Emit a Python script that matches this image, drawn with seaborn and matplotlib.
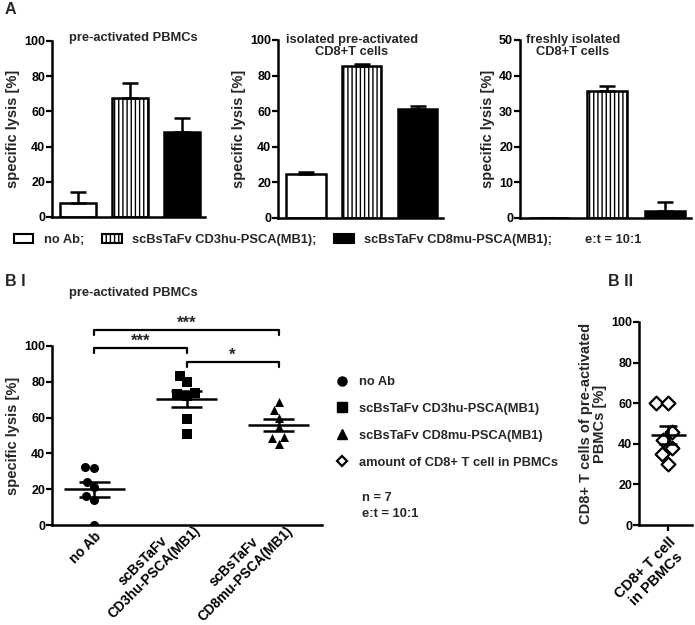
import numpy as np
import pandas as pd
import seaborn as sns
import matplotlib.pyplot as plt
import matplotlib.transforms as mtransforms
from matplotlib.patches import Patch
from matplotlib.lines import Line2D

# panel A - bar means and upper SEM
groups_a = ['no Ab', 'CD3hu', 'CD8mu']
pbmc_mean = [8, 67.5, 48.5]
pbmc_sem = [6, 8.5, 7.5]
cd8_mean = [24.5, 85.5, 61.5]
cd8_sem = [1.5, 1, 1.5]
fresh_mean = [0, 35.7, 2]
fresh_sem = [0, 1.3, 2.5]

# panel B I - single donors (n = 7)
groups_b = ['no Ab', 'scBsTaFv\nCD3hu-PSCA(MB1)', 'scBsTaFv\nCD8mu-PSCA(MB1)']
lysis_noab = [32.5, 32, 24, 21, 16, 14, 0]
lysis_cd3 = [83.5, 80, 74, 73, 72, 59, 51]
lysis_cd8 = [68.5, 64.3, 60, 54.6, 49, 48.7, 45]

# panel B II
cd8_amount = [60, 60, 46, 42, 38, 35, 30]

sns.set_theme(style="ticks")
plt.rcParams['font.family'] = ['Liberation Sans', 'DejaVu Sans']
plt.rcParams['font.weight'] = 'bold'
plt.rcParams['axes.labelweight'] = 'bold'
plt.rcParams['hatch.linewidth'] = 1.0

W, H = 695, 625
fig = plt.figure(figsize=(W / 100, H / 100), dpi=100)

TICK = 9
LAB = 10.5
TXT = 9.3


def fx(x):
    return x / W


def fy(y):
    return 1 - y / H


def px_axes(l, t, r, b):
    return fig.add_axes([fx(l), fy(b), (r - l) / W, (b - t) / H])


def style_axis(ax):
    sns.despine(ax=ax)
    for s in ['left', 'bottom']:
        ax.spines[s].set_linewidth(1.8)
        ax.spines[s].set_color('black')
    ax.tick_params(axis='both', width=1.6, length=4, labelsize=TICK, colors='black', pad=1)


def bar_panel(ax, means, sems, ymax, step):
    sns.barplot(x=groups_a, y=means, ax=ax, width=0.7, hue=groups_a, legend=False,
                palette=['white', 'white', 'black'], edgecolor='black', linewidth=1.8)
    ax.patches[1].set_hatch('||||')
    ax.errorbar(x=range(3), y=means, yerr=[[0, 0, 0], sems], fmt='none', ecolor='black',
                elinewidth=1.8, capsize=6, capthick=1.8, zorder=5)
    ax.set_ylim(0, ymax)
    ax.set_yticks(np.arange(0, ymax + 1, step))
    ax.set_xlim(-0.5, 2.45)
    ax.set_xticks([])
    ax.set_xlabel('')
    ax.set_ylabel('specific lysis [%]', fontsize=LAB, labelpad=3)
    style_axis(ax)


def rotate_labels(ax, va, size, dx=0, dy=0):
    for lab in ax.get_xticklabels():
        # single-line labels sit lower, below the points on the axis
        multi = '\n' in lab.get_text()
        ddx = dx if multi else dx - 1
        ddy = dy if multi else dy - 11
        shift = mtransforms.ScaledTranslation(ddx / 100, ddy / 100, fig.dpi_scale_trans)
        lab.set_rotation(45)
        lab.set_ha('right')
        lab.set_va(va)
        lab.set_rotation_mode('anchor')
        lab.set_multialignment('center')
        lab.set_fontsize(size)
        lab.set_transform(lab.get_transform() + shift)


ax1 = px_axes(52, 41, 205, 217)
bar_panel(ax1, pbmc_mean, pbmc_sem, 100, 20)
ax2 = px_axes(278, 40, 443, 218)
bar_panel(ax2, cd8_mean, cd8_sem, 100, 20)
ax3 = px_axes(520, 40, 691, 218)
bar_panel(ax3, fresh_mean, fresh_sem, 50, 10)

fig.text(fx(133), fy(38), 'pre-activated PBMCs', ha='center', va='center', fontsize=TXT)
fig.text(fx(352), fy(46), 'isolated pre-activated\nCD8+T cells', ha='center', va='center',
         fontsize=TXT, linespacing=1.1)
fig.text(fx(573), fy(46), 'freshly isolated\nCD8+T cells', ha='center', va='center',
         fontsize=TXT, linespacing=1.1)
fig.text(fx(5), fy(10), 'A', ha='left', va='center', fontsize=11.5)

# legend of panel A
a_handles = [Patch(facecolor='white', edgecolor='black', linewidth=1.5),
             Patch(facecolor='white', edgecolor='black', linewidth=1.5, hatch='||||'),
             Patch(facecolor='black', edgecolor='black', linewidth=1.5)]
a_labels = ['no Ab;', 'scBsTaFv CD3hu-PSCA(MB1);', 'scBsTaFv CD8mu-PSCA(MB1);']
fig.legend(a_handles, a_labels, loc='center left', bbox_to_anchor=(fx(14), fy(240)), ncol=3,
           frameon=False, fontsize=TXT, handlelength=1.5, handleheight=0.7,
           handletextpad=0.8, columnspacing=1.4, borderaxespad=0, borderpad=0)
fig.text(fx(585), fy(240), 'e:t = 10:1', ha='left', va='center', fontsize=TXT)

# panel B I
fig.text(fx(5), fy(281), 'B I', ha='left', va='center', fontsize=11.5)
fig.text(fx(133), fy(293), 'pre-activated PBMCs', ha='center', va='center', fontsize=TXT)

axb = px_axes(52, 346, 322, 525)
b_sets = [lysis_noab, lysis_cd3, lysis_cd8]
b_markers = ['o', 's', '^']
for i, (vals, m) in enumerate(zip(b_sets, b_markers)):
    sns.swarmplot(x=[groups_b[i]] * len(vals), y=vals, order=groups_b, ax=axb,
                  marker=m, color='black', size=6.5)
    mean = np.mean(vals)
    sem = np.std(vals, ddof=1) / np.sqrt(len(vals))
    axb.hlines(mean, i - 0.33, i + 0.33, color='black', lw=1.8, zorder=4)
    axb.hlines([mean - sem, mean + sem], i - 0.17, i + 0.17, color='black', lw=1.8, zorder=4)
    axb.vlines(i, mean - sem, mean + sem, color='black', lw=1.8, zorder=4)

# significance brackets
brackets = [(0, 2, 109, '***'), (0, 1, 99, '***'), (1, 2, 91, '*')]
for x1, x2, y, star in brackets:
    axb.plot([x1, x1, x2, x2], [y - 3, y, y, y - 3], color='black', lw=1.6, clip_on=False)
    axb.text((x1 + x2) / 2, y - 0.5, star, ha='center', va='bottom', fontsize=12)

axb.set_ylim(0, 100)
axb.set_yticks(np.arange(0, 101, 20))
axb.set_xlim(-0.46, 2.47)
axb.set_ylabel('specific lysis [%]', fontsize=LAB, labelpad=3)
style_axis(axb)
axb.tick_params(axis='x', length=0, pad=0)
rotate_labels(axb, 'center', 9.8, dx=6, dy=2)

# legend of panel B
b_handles = [Line2D([], [], marker='o', ls='', color='black', markersize=6.5),
             Line2D([], [], marker='s', ls='', color='black', markersize=6.5),
             Line2D([], [], marker='^', ls='', color='black', markersize=6.5),
             Line2D([], [], marker='D', ls='', markerfacecolor='white', markeredgecolor='black',
                    markeredgewidth=1.6, markersize=5.5)]
b_labels = ['no Ab', 'scBsTaFv CD3hu-PSCA(MB1)', 'scBsTaFv CD8mu-PSCA(MB1)',
            'amount of CD8+ T cell in PBMCs']
fig.legend(b_handles, b_labels, loc='upper left', bbox_to_anchor=(fx(336), fy(376)),
           frameon=False, fontsize=TXT, handlelength=1, handletextpad=0.8,
           labelspacing=1.15, borderaxespad=0, borderpad=0)
fig.text(fx(362), fy(498), 'n = 7', ha='left', va='center', fontsize=TXT)
fig.text(fx(362), fy(514), 'e:t = 10:1', ha='left', va='center', fontsize=TXT)

# panel B II
fig.text(fx(608), fy(282), 'B II', ha='left', va='center', fontsize=11.5)
axc = px_axes(639, 322, 692, 525)
sns.swarmplot(x=['CD8+ T cell\nin PBMCs'] * len(cd8_amount), y=cd8_amount, ax=axc,
              marker='D', color='white', edgecolor='black', linewidth=1.6, size=7)
m2 = np.mean(cd8_amount)
s2 = np.std(cd8_amount, ddof=1) / np.sqrt(len(cd8_amount))
axc.hlines(m2, -0.33, 0.33, color='black', lw=1.8, zorder=4)
axc.hlines([m2 - s2, m2 + s2], -0.17, 0.17, color='black', lw=1.8, zorder=4)
axc.vlines(0, m2 - s2, m2 + s2, color='black', lw=1.8, zorder=4)
axc.set_ylim(0, 100)
axc.set_yticks(np.arange(0, 101, 20))
axc.set_xlim(-0.55, 0.45)
axc.set_ylabel('CD8+ T cells of pre-activated\nPBMCs [%]', fontsize=LAB, labelpad=3,
               linespacing=1.0)
style_axis(axc)
axc.tick_params(axis='x', length=4, pad=3)
rotate_labels(axc, 'top', LAB)

fig.savefig('out.png', dpi=100)
